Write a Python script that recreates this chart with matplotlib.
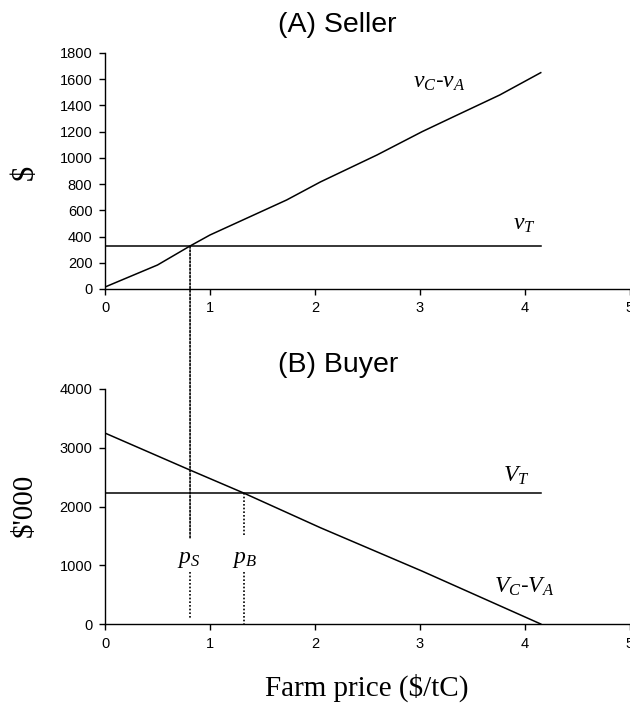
import matplotlib
matplotlib.use("Agg")
import matplotlib.pyplot as plt
from matplotlib.patches import ConnectionPatch

# ---- data ----
seller_price = [0, 0.5, 0.81, 1.0, 1.73, 2.05, 2.59, 3.02, 3.32, 3.76, 4.15]
seller_vc_va = [15, 183, 328, 412, 679, 816, 1022, 1200, 1314, 1480, 1650]
seller_vt_price = [0, 4.15]
seller_vt = [325, 325]

buyer_price = [0, 0.81, 1.32, 2.05, 3.02, 4.15]
buyer_vc_va = [3250, 2620, 2230, 1640, 900, 0]
buyer_vt_price = [0, 4.15]
buyer_vt = [2230, 2230]

p_s = 0.81
p_b = 1.32

x_ticks = [0, 1, 2, 3, 4, 5]
seller_yticks = list(range(0, 1801, 200))
buyer_yticks = [0, 1000, 2000, 3000, 4000]

plt.rcParams['mathtext.fontset'] = 'custom'
plt.rcParams['mathtext.rm'] = 'Liberation Serif'
plt.rcParams['mathtext.it'] = 'Liberation Serif:italic'
plt.rcParams['font.family'] = ['Liberation Sans', 'DejaVu Sans']

fig = plt.figure(figsize=(6.3, 7.05), dpi=100)
W, H = 630, 705
ax1 = fig.add_axes([105 / W, 1 - 289 / H, 525 / W, (289 - 53) / H])
ax2 = fig.add_axes([105 / W, 1 - 624 / H, 525 / W, (624 - 389) / H])

for ax in (ax1, ax2):
    for s in ('top', 'right'):
        ax.spines[s].set_visible(False)
    for s in ('left', 'bottom'):
        ax.spines[s].set_linewidth(1.0)
    ax.set_xlim(0, 5)
    ax.set_xticks(x_ticks)
    ax.tick_params(direction='out', length=4, width=1.0, labelsize=10.5, pad=5)

# Seller
ax1.plot(seller_price, seller_vc_va, color='black', lw=1.1)
ax1.plot(seller_vt_price, seller_vt, color='black', lw=1.1)
ax1.set_ylim(0, 1800)
ax1.set_yticks(seller_yticks)

# Buyer
ax2.plot(buyer_price, buyer_vc_va, color='black', lw=1.1)
ax2.plot(buyer_vt_price, buyer_vt, color='black', lw=1.1)
ax2.set_ylim(0, 4000)
ax2.set_yticks(buyer_yticks)

# dotted lines
dot = (0, (1, 1.2))
con = ConnectionPatch(xyA=(p_s, seller_vt[0]), coordsA=ax1.transData,
                      xyB=(p_s, 1464), coordsB=ax2.transData,
                      linestyle=dot, color='black', lw=1.2)
fig.add_artist(con)
ax2.plot([p_s, p_s], [890, 100], ls=dot, color='black', lw=1.2)
ax2.plot([p_b, p_b], [buyer_vt[0], 1480], ls=dot, color='black', lw=1.2)
ax2.plot([p_b, p_b], [880, 0], ls=dot, color='black', lw=1.2)

lab_kw = dict(fontsize=17, va='baseline', ha='left', color='black')
ax1.text(2.93, 1533, r'$v_C$-$v_A$', **lab_kw)
ax1.text(3.89, 450, r'$v_T$', **lab_kw)
ax2.text(3.79, 2417, r'$V_T$', **lab_kw)
ax2.text(3.70, 528, r'$V_C$-$V_A$', **lab_kw)
ax2.text(0.686, 1038, r'$p_S$', **lab_kw)
ax2.text(1.21, 1038, r'$p_B$', **lab_kw)

# titles and axis labels
fig.text(337 / W, 1 - 25 / H, '(A) Seller', fontsize=20.5, ha='center', va='center')
fig.text(338 / W, 1 - 365 / H, '(B) Buyer', fontsize=20.5, ha='center', va='center')
fig.text(25 / W, 1 - 172 / H, '$', family='Liberation Serif', fontsize=22,
         rotation=90, ha='center', va='center')
fig.text(25 / W, 1 - 505 / H, "$'000", family='Liberation Serif', fontsize=21,
         rotation=90, ha='center', va='center')
fig.text(367 / W, 1 - 688 / H, 'Farm price ($/tC)', family='Liberation Serif',
         fontsize=21, ha='center', va='center')

fig.savefig('out.png', dpi=100)
